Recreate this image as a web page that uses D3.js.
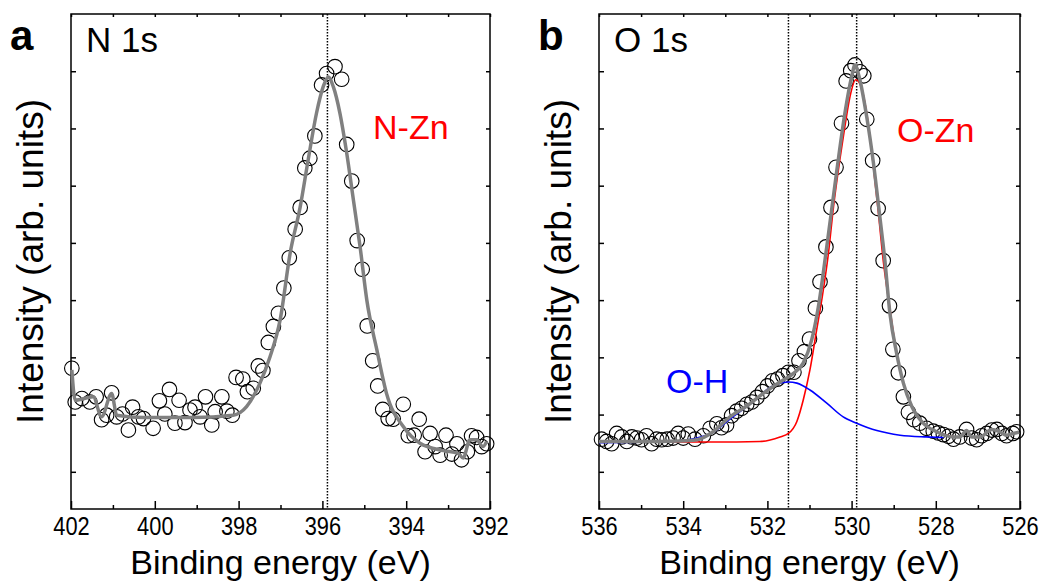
<!DOCTYPE html>
<html>
<head>
<meta charset="utf-8">
<title>XPS N 1s / O 1s</title>
<script src="https://cdn.jsdelivr.net/npm/d3@7"></script>
<style>
  body { margin: 0; background: #fff; }
  text { font-family: "Liberation Sans", Arial, sans-serif; }
</style>
</head>
<body>
<svg id="chart" width="1039" height="587"></svg>
<script>
// N 1s measured points [binding energy, intensity]
var n1sPoints = [
  [401.98,1.81],[401.90,1.22],[401.74,1.28],[401.55,1.22],[401.40,1.31],[401.27,0.91],
  [401.15,0.99],[401.03,1.38],[400.91,0.96],[400.77,1.01],[400.63,0.73],[400.53,1.13],
  [400.39,0.96],[400.27,0.93],[400.04,0.76],[399.89,1.24],[399.76,1.01],[399.65,1.44],
  [399.52,0.85],[399.42,1.25],[399.28,0.86],[399.16,1.08],[399.04,1.13],[398.92,0.96],
  [398.79,1.31],[398.64,0.82],[398.56,1.05],[398.40,1.31],[398.28,1.06],[398.15,0.99],
  [398.06,1.65],[397.90,1.62],[397.79,1.40],[397.65,1.46],[397.53,1.85],[397.42,1.77],
  [397.29,2.26],[397.17,2.54],[397.05,2.77],[396.92,3.21],[396.79,3.74],[396.65,4.24],
  [396.53,4.62],[396.42,5.31],[396.30,5.48],[396.18,5.87],[396.02,6.76],[395.90,6.96],
  [395.70,7.08],[395.54,6.86],[395.42,5.72],[395.30,5.08],[395.17,4.04],[395.05,3.54],
  [394.93,2.55],[394.80,1.94],[394.68,1.50],[394.56,1.09],[394.43,0.93],[394.31,0.92],
  [394.07,1.18],[393.95,0.63],[393.81,0.64],[393.69,0.92],[393.55,0.35],[393.43,0.67],
  [393.31,0.44],[393.19,0.29],[393.05,0.64],[392.91,0.31],[392.79,0.49],[392.68,0.21],
  [392.54,0.35],[392.44,0.63],[392.32,0.60],[392.20,0.44],[392.08,0.49]
];
// N 1s fitted envelope
var n1sFit = [
  [401.98,1.78],[401.90,1.25],[401.47,1.31],[401.27,0.96],[401.03,1.37],[400.91,0.99],
  [400.27,0.95],[399.09,0.95],[398.13,0.99],[397.81,1.14],[397.49,1.55],[397.25,2.01],
  [397.01,2.65],[396.77,3.82],[396.53,4.63],[396.34,5.45],[396.14,6.27],[395.98,6.73],
  [395.86,6.90],[395.74,6.73],[395.58,6.26],[395.42,5.57],[395.26,4.75],[395.10,3.93],
  [394.94,3.00],[394.70,2.13],[394.47,1.37],[394.07,0.79],[393.67,0.50],[393.11,0.37],
  [392.76,0.32],[392.64,0.24],[392.48,0.56],[392.32,0.56],[392.17,0.44],[392.08,0.53]
];
// O 1s measured points
var o1sPoints = [
  [535.94,0.57],[535.82,0.53],[535.70,0.49],[535.58,0.67],[535.46,0.61],[535.34,0.53],
  [535.22,0.61],[535.10,0.59],[534.99,0.56],[534.87,0.63],[534.75,0.49],[534.63,0.57],
  [534.51,0.56],[534.38,0.57],[534.24,0.59],[534.12,0.67],[534.00,0.59],[533.88,0.66],
  [533.72,0.57],[533.52,0.63],[533.36,0.76],[533.20,0.84],[533.09,0.77],[532.97,0.82],
  [532.85,0.98],[532.73,1.06],[532.61,1.11],[532.49,1.18],[532.37,1.22],[532.25,1.30],
  [532.12,1.40],[532.00,1.50],[531.88,1.59],[531.76,1.62],[531.63,1.68],[531.50,1.74],
  [531.37,1.74],[531.25,1.94],[531.12,2.10],[531.00,2.32],[530.86,2.86],[530.75,3.32],
  [530.61,3.93],[530.49,4.62],[530.37,5.32],[530.24,6.09],[530.13,6.83],[530.02,7.01],
  [529.92,7.11],[529.80,6.99],[529.71,6.92],[529.64,6.16],[529.50,5.44],[529.37,4.60],
  [529.25,3.69],[529.10,2.90],[529.02,2.14],[528.89,1.73],[528.77,1.31],[528.65,1.04],
  [528.52,0.91],[528.38,0.85],[528.22,0.76],[528.06,0.71],[527.94,0.68],[527.82,0.65],
  [527.70,0.62],[527.58,0.57],[527.43,0.61],[527.27,0.74],[527.15,0.59],[527.03,0.56],
  [526.91,0.63],[526.79,0.67],[526.67,0.73],[526.55,0.74],[526.43,0.67],[526.32,0.63],
  [526.17,0.67],[526.08,0.70]
];
// O 1s fitted envelope
var o1sFit = [
  [536.00,0.53],[535.03,0.53],[534.08,0.54],[533.68,0.56],[533.29,0.70],[532.89,0.96],
  [532.49,1.15],[532.10,1.37],[531.70,1.57],[531.38,1.72],[531.15,1.90],[530.95,2.30],
  [530.79,2.88],[530.59,3.93],[530.35,5.27],[530.16,6.26],[530.00,6.90],[529.92,7.11],
  [529.82,6.90],[529.64,6.20],[529.48,5.39],[529.33,4.46],[529.21,3.70],[529.09,2.77],
  [528.93,2.07],[528.77,1.55],[528.57,1.14],[528.30,0.85],[527.98,0.70],[527.58,0.61],
  [527.43,0.61],[527.27,0.72],[527.15,0.61],[526.95,0.61],[526.67,0.74],[526.48,0.70],
  [526.32,0.64],[526.16,0.67],[526.02,0.69]
];
// O-Zn component
var oZnFit = [
  [536.00,0.52],[533.29,0.52],[532.18,0.53],[531.70,0.61],[531.50,0.67],[531.30,0.88],
  [531.15,1.25],[530.99,1.78],[530.83,2.48],[530.69,3.09],[530.55,3.82],[530.43,4.63],
  [530.28,5.45],[530.16,6.03],[530.04,6.55],[529.90,6.85],[529.76,6.70],[529.64,6.26],
  [529.50,5.45],[529.37,4.57],[529.25,3.70],[529.10,2.90],[528.93,2.07],[528.77,1.55],
  [528.57,1.14],[528.30,0.85],[527.98,0.70],[527.58,0.61]
];
// O-H component
var oHFit = [
  [536.00,0.51],[534.31,0.53],[533.72,0.58],[533.29,0.69],[532.89,0.92],[532.49,1.14],
  [532.18,1.32],[532.02,1.43],[531.78,1.53],[531.50,1.57],[531.30,1.55],[530.99,1.43],
  [530.59,1.20],[530.20,0.96],[529.88,0.85],[529.40,0.72],[528.85,0.64],[528.22,0.61],
  [527.82,0.60]
];
var aMajor = [402, 400, 398, 396, 394, 392];
var aMinor = [401, 399, 397, 395, 393];
var bMajor = [536, 534, 532, 530, 528, 526];
var bMinor = [535, 533, 531, 529, 527];
var yTicks = [0, 1, 2, 3, 4, 5, 6, 7];

var svg = d3.select("#chart");
var plotTop = 14, plotBottom = 509;
var y = d3.scaleLinear().domain([-0.65, 8]).range([plotBottom, plotTop]);

function thinLines(a) {
  a.select(".domain").remove();
  a.selectAll("line").attr("stroke", "#000").attr("stroke-width", 1.5);
}

function panel(opt) {
  var x = d3.scaleLinear().domain(opt.domain).range(opt.range);
  var g = svg.append("g");
  var line = d3.line().x(function(d){ return x(d[0]); }).y(function(d){ return y(d[1]); })
    .curve(d3.curveMonotoneX);

  // axes
  var allE = d3.range(opt.domain[1], opt.domain[0] + 1);
  g.append("g").attr("transform", "translate(0," + plotBottom + ")")
    .call(d3.axisBottom(x).tickValues(opt.major).tickSize(-8).tickSizeOuter(0).tickPadding(8))
    .call(thinLines)
    .call(function(a){
      // narrow, tall digits as in the original
      a.selectAll("text").attr("font-size", 26).attr("fill", "#000")
        .attr("font-family", "Liberation Sans, Arial, sans-serif")
        .attr("transform", "scale(0.84,1)");
    });
  g.append("g").attr("transform", "translate(0," + plotBottom + ")")
    .call(d3.axisBottom(x).tickValues(opt.minor).tickSize(-4).tickSizeOuter(0).tickFormat(""))
    .call(thinLines);
  g.append("g").attr("transform", "translate(0," + plotTop + ")")
    .call(d3.axisTop(x).tickValues(allE).tickSize(-3).tickSizeOuter(0).tickFormat(""))
    .call(thinLines);
  g.append("g").attr("transform", "translate(" + opt.range[0] + ",0)")
    .call(d3.axisLeft(y).tickValues(yTicks).tickSize(-5).tickSizeOuter(0).tickFormat(""))
    .call(thinLines);
  g.append("g").attr("transform", "translate(" + opt.range[1] + ",0)")
    .call(d3.axisRight(y).tickValues(yTicks).tickSize(-4).tickSizeOuter(0).tickFormat(""))
    .call(thinLines);

  g.append("rect").attr("x", opt.range[0]).attr("y", plotTop)
    .attr("width", opt.range[1] - opt.range[0]).attr("height", plotBottom - plotTop)
    .attr("fill", "none").attr("stroke", "#000").attr("stroke-width", 1.5);

  // reference lines
  opt.marks.forEach(function(e){
    g.append("line").attr("x1", x(e)).attr("x2", x(e)).attr("y1", plotTop).attr("y2", plotBottom)
      .attr("stroke", "#000").attr("stroke-width", 1.5).attr("stroke-dasharray", "1.5,1.5");
  });

  // data circles
  g.append("g").selectAll("circle").data(opt.points).join("circle")
    .attr("cx", function(d){ return x(d[0]); }).attr("cy", function(d){ return y(d[1]); })
    .attr("r", 7.3).attr("fill", "none").attr("stroke", "#000").attr("stroke-width", 1.1);

  // component fits
  opt.comps.forEach(function(c){
    g.append("path").datum(c.data).attr("d", line).attr("fill", "none")
      .attr("stroke", c.color).attr("stroke-width", 1.6);
  });
  g.append("path").datum(opt.fit).attr("d", line).attr("fill", "none")
    .attr("stroke", "#808080").attr("stroke-width", 3.5);

  // labels
  g.append("text").attr("x", opt.range[0] - 61).attr("y", 50).text(opt.letter)
    .attr("font-size", 42).attr("font-weight", "bold");
  g.append("text").attr("x", opt.range[0] + 15).attr("y", 52).text(opt.title)
    .attr("font-size", 35);
  opt.tags.forEach(function(t){
    g.append("text").attr("x", t.x).attr("y", t.y).text(t.text)
      .attr("font-size", 34).attr("fill", t.color);
  });
  g.append("text").attr("x", (opt.range[0] + opt.range[1]) / 2).attr("y", 574)
    .attr("text-anchor", "middle").attr("font-size", 34).text("Binding energy (eV)");
  g.append("text").attr("transform", "translate(" + (opt.range[0] - 41) + "," + ((plotTop + plotBottom) / 2) + ") rotate(-90)")
    .attr("text-anchor", "middle").attr("dy", "0.35em").attr("font-size", 37)
    .text("Intensity (arb. units)");
}

panel({
  domain: [402, 392], range: [71, 490], major: aMajor, minor: aMinor,
  marks: [395.88], points: n1sPoints, fit: n1sFit, comps: [],
  letter: "a", title: "N 1s",
  tags: [{ text: "N-Zn", x: 373, y: 139, color: "#ff0000" }]
});
panel({
  domain: [536, 526], range: [599, 1020], major: bMajor, minor: bMinor,
  marks: [531.5, 529.88], points: o1sPoints, fit: o1sFit,
  comps: [{ data: oZnFit, color: "#ff0000" }, { data: oHFit, color: "#0000ff" }],
  letter: "b", title: "O 1s",
  tags: [{ text: "O-Zn", x: 897, y: 142, color: "#ff0000" },
         { text: "O-H", x: 666, y: 393, color: "#0000ff" }]
});
</script>
</body>
</html>
